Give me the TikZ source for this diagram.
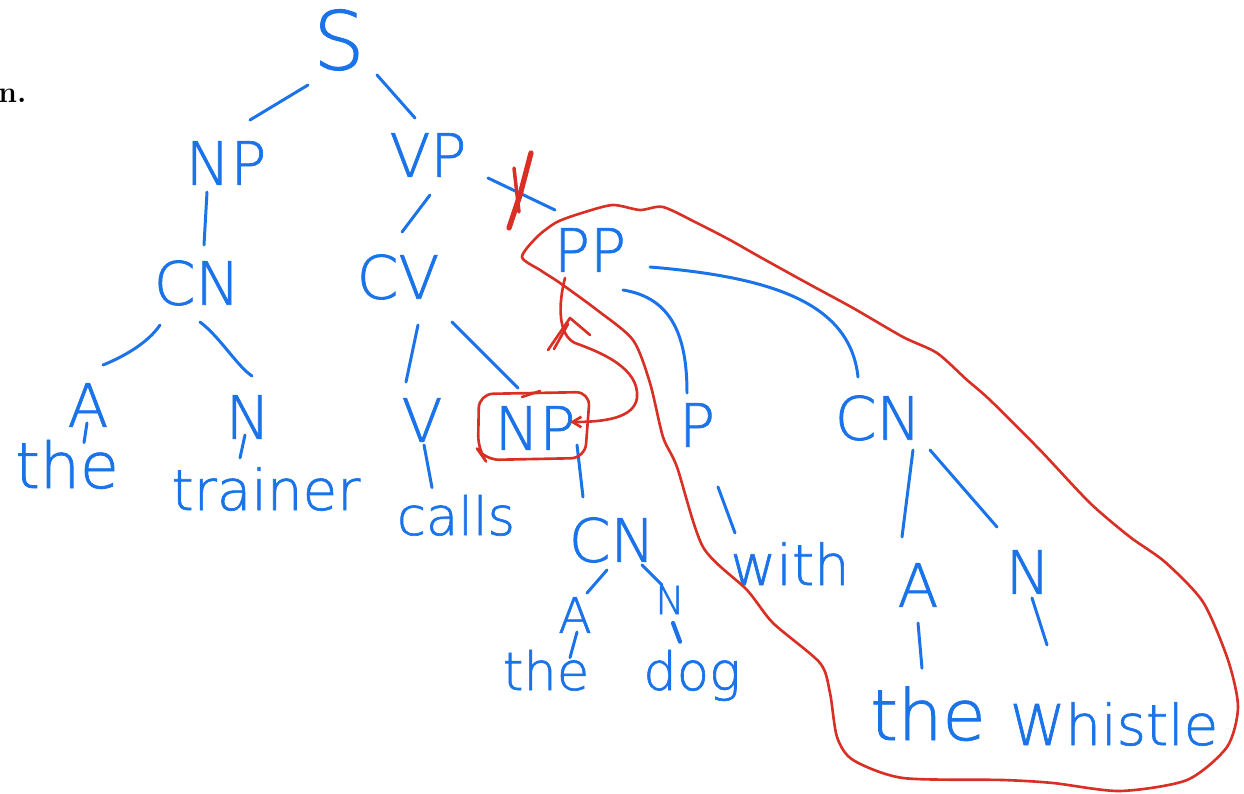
\documentclass[tikz,border=0pt]{standalone}
\usepackage{fontspec}
\usetikzlibrary{arrows.meta}
\IfFontExistsTF{DejaVu Sans ExtraLight}
  {\newfontfamily\handfont{DejaVu Sans ExtraLight}[FakeBold=1.2]}
  {\newfontfamily\handfont{DejaVu Sans}}
\definecolor{ink}{RGB}{26,115,232}
\definecolor{pen}{RGB}{217,48,37}
\tikzset{
  cat/.style={inner sep=0pt, text=ink, font={\handfont\fontsize{34}{40}\selectfont}},
  word/.style={inner sep=0pt, anchor=base, text=ink, font={\handfont\fontsize{32}{38}\selectfont}},
  edge/.style={draw=ink, line width=1.7pt, line cap=round, line join=round},
  redpen/.style={draw=pen, line width=1.5pt, line cap=round, line join=round},
}
\begin{document}
\begin{tikzpicture}[x=0.02cm, y=-0.02cm]
\useasboundingbox (0,0) rectangle (1244,794);

% margin text
\node[anchor=base west, inner sep=0pt, font={\bfseries\fontsize{17}{20}\selectfont}] (label) at (-2,103) {n.};

% category nodes
\node[cat, font={\handfont\fontsize{46}{50}\selectfont}] (S) at (339,40) {S};
\node[cat] (NP) at (226,163) {NP};
\node[cat] (VP) at (428,155) {VP};
\node[cat] (CN1) at (197,283) {CN};
\node[cat] (CV) at (398,277) {CV};
\node[cat] (PP) at (590,250) {PP};
\node[cat] (A1) at (88,405) {A};
\node[cat] (N1) at (248,417) {N};
\node[cat] (V) at (422,420) {V};
\node[cat] (NP2) at (535,428) {NP};
\node[cat] (P) at (697,425) {P};
\node[cat] (CN3) at (878,418) {CN};
\node[cat] (CN2) at (612,540) {CN};
\node[cat, font={\handfont\fontsize{28}{32}\selectfont}] (A2) at (575,615) {A};
\node[cat, font={\handfont\fontsize{22}{26}\selectfont}] (N2) at (670,600) {N};
\node[cat] (A3) at (918,585) {A};
\node[cat] (N3) at (1028,572) {N};

% words
\node[word, font={\handfont\fontsize{36}{40}\selectfont}] (the1) at (67,488) {the};
\node[word] (trainer) at (266,510) {trainer};
\node[word, font={\handfont\fontsize{30}{36}\selectfont}] (calls) at (456,535) {calls};
\node[word, font={\handfont\fontsize{30}{36}\selectfont}] (the2) at (546,690) {the};
\node[word, font={\handfont\fontsize{30}{36}\selectfont}] (dog) at (692,690) {dog};
\node[word] (with) at (790,585) {with};
\node[word, font={\handfont\fontsize{40}{44}\selectfont}] (the3) at (928,740) {the};
\node[word] (whistle) at (1114,745) {Whistle};

% tree branches
\draw[edge] ([shift={(-31,45)}]S.center) -- ([shift={(24,-43)}]NP.center);
\draw[edge] ([shift={(38,35)}]S.center) -- ([shift={(-13,-37)}]VP.center);
\draw[edge] ([shift={(-19,29)}]NP.center) -- ([shift={(7,-38)}]CN1.center);
\draw[edge] ([shift={(2,40)}]VP.center) -- ([shift={(4,-45)}]CV.center);
\draw[edge] ([shift={(60,23)}]VP.center) -- ([shift={(-35,-40)}]PP.center);
\draw[edge] ([shift={(-37,42)}]CN1.center) .. controls +(-12,18) and +(20,-8) .. ([shift={(15,-40)}]A1.center);
\draw[edge] ([shift={(3,39)}]CN1.center) .. controls +(20,15) and +(-15,-10) .. ([shift={(4,-41)}]N1.center);
\draw[edge] ([shift={(20,48)}]CV.center) -- ([shift={(-16,-38)}]V.center);
\draw[edge] ([shift={(54,45)}]CV.center) -- ([shift={(-17,-40)}]NP2.center);
\draw[edge] ([shift={(33,40)}]PP.center) .. controls +(50,8) and +(0,-55) .. ([shift={(-10,-32)}]P.center);
\draw[edge] ([shift={(60,17)}]PP.center) .. controls +(120,10) and +(-8,-75) .. ([shift={(-20,-41)}]CN3.center);
\draw[edge] ([shift={(42,17)}]NP2.center) -- ([shift={(-29,-43)}]CN2.center);
\draw[edge] ([shift={(-5,30)}]CN2.center) -- ([shift={(12,-22)}]A2.center);
\draw[edge] ([shift={(30,25)}]CN2.center) -- ([shift={(-8,-15)}]N2.center);
\draw[edge] ([shift={(35,32)}]CN3.center) -- ([shift={(-16,-48)}]A3.center);
\draw[edge] ([shift={(52,32)}]CN3.center) -- ([shift={(-31,-45)}]N3.center);
\draw[edge] ([shift={(-1,18)}]A1.center) -- ([shift={(17,3)}]the1.north);
\draw[edge] ([shift={(-3,18)}]N1.center) -- ([shift={(-26,-9)}]trainer.north);
\draw[edge] ([shift={(2,25)}]V.center) -- ([shift={(-24,-7)}]calls.north);
\draw[edge] ([shift={(21,62)}]P.center) -- ([shift={(-55,-9)}]with.north);
\draw[edge] ([shift={(2,17)}]A2.center) -- ([shift={(24,8)}]the2.north);
\draw[edge, line width=2.4pt] ([shift={(3,23)}]N2.center) -- ([shift={(-12,-8)}]dog.north);
\draw[edge] ([shift={(0,38)}]A3.center) -- ([shift={(-6,-18)}]the3.north);
\draw[edge] ([shift={(4,26)}]N3.center) -- ([shift={(-67,-57)}]whistle.north);

% crossing-out strokes on the VP--PP branch
\draw[redpen, line width=3pt] (531,153) -- (520,195) -- (509,228);
\draw[redpen, line width=2pt] (514,168) -- (519,212);

% box around the object NP
\draw[redpen, rounded corners=8] ([shift={(-56,-34)}]NP2.center) -- ([shift={(55,-36)}]NP2.center)
  -- ([shift={(50,30)}]NP2.center) -- ([shift={(-50,32)}]NP2.center)
  -- ([shift={(-57,22)}]NP2.center) -- cycle;
\draw[redpen] (522,397) -- (540,391);

% arrow: the PP re-attaches to the object NP
\draw[redpen, -{Straight Barb[length=5pt,width=6pt]}] ([shift={(-25,28)}]PP.center)
  .. controls (558,305) and (558,335) .. (575,343)
  .. controls (600,352) and (640,368) .. (637,398)
  .. controls (634,418) and (605,422) .. ([shift={(35,-6)}]NP2.center);
\draw[redpen] (548,350) -- (570,318) -- (590,335);
\draw[redpen] (554,349) -- (568,324);

% loop enclosing the PP subtree
\draw[redpen] plot[smooth cycle, tension=0.45] coordinates {
  (522,257) (537,237) (557,222) (585,212) (613,205) (640,210) (663,207)
  (697,223) (730,240) (760,257) (807,283) (853,308) (903,337) (937,353)
  (967,380) (990,400) (1040,450) (1090,503) (1130,537) (1165,562)
  (1203,602) (1228,660) (1238,707) (1227,747) (1187,780) (1120,791)
  (1053,783) (1003,780) (903,778) (853,760) (837,737) (830,693)
  (820,663) (773,623) (747,590) (703,547) (677,467) (663,437) (650,383)
  (633,340) (597,310) (560,283) (540,270)};
\end{tikzpicture}
\end{document}
